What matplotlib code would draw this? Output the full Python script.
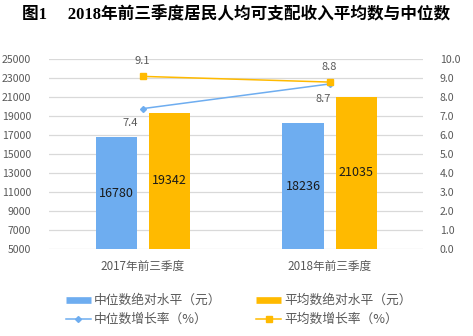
import matplotlib
matplotlib.use("Agg")
import matplotlib.pyplot as plt
from matplotlib.lines import Line2D
import numpy as np

plt.rcParams['font.family'] = ['Noto Sans CJK SC', 'DejaVu Sans']

categories = ["2017年前三季度", "2018年前三季度"]
median_abs = [16780, 18236]
mean_abs = [19342, 21035]
median_growth = [7.4, 8.7]
mean_growth = [9.1, 8.8]
left_ticks = list(range(5000, 25001, 2000))
right_ticks = [i * 1.0 for i in range(0, 11)]

title = "图1\u3000 2018年前三季度居民人均可支配收入平均数与中位数"
leg_labels = ["中位数绝对水平（元）", "平均数绝对水平（元）", "中位数增长率（%）", "平均数增长率（%）"]

blue = "#6EADF0"
gold = "#FFBA00"
txt = "#595959"
grid = "#D9D9D9"

fig = plt.figure(figsize=(4.73, 3.36), dpi=100)
ax = fig.add_axes([0.1042, 0.2589, 0.790, 0.5646])
x = np.arange(len(categories))
bw = 0.22
off = 0.142
ax.bar(x - off, median_abs, bw, color=blue, zorder=2)
ax.bar(x + off, mean_abs, bw, color=gold, zorder=2)
ax.set_ylim(5000, 25000)
ax.set_xlim(-0.5, 1.5)
ax.set_yticks(left_ticks)
ax.set_yticklabels([str(t) for t in left_ticks])
ax.set_xticks(x)
ax.set_xticklabels(categories)
for s in ax.spines.values():
    s.set_visible(False)
ax.tick_params(length=0, colors=txt, labelsize=7.6)
ax.tick_params(axis='y', pad=13)
ax.tick_params(axis='x', labelsize=8.4, pad=8)
ax.yaxis.grid(True, color=grid, lw=0.9, zorder=0)
ax.set_axisbelow(True)

for xi, v in zip(x - off, median_abs):
    ax.text(xi, (5000 + v) / 2, str(v), ha='center', va='center', fontsize=9, color='#1a1a1a', zorder=3)
for xi, v in zip(x + off, mean_abs):
    ax.text(xi, (5000 + v) / 2, str(v), ha='center', va='center', fontsize=9, color='#1a1a1a', zorder=3)

ax2 = ax.twinx()
ax2.set_ylim(0, 10)
ax2.set_yticks(right_ticks)
ax2.set_yticklabels([f"{t:.1f}" for t in right_ticks])
for s in ax2.spines.values():
    s.set_visible(False)
ax2.tick_params(length=0, colors=txt, labelsize=7.6, pad=12)
ax2.plot(x, median_growth, color=blue, lw=1.1, marker='D', ms=3, zorder=4)
ax2.plot(x, mean_growth, color=gold, lw=1.1, marker='s', ms=5, zorder=4)
for xi, v in zip(x, mean_growth):
    ax2.annotate(f"{v:.1f}", (xi, v), xytext=(0, 11), textcoords='offset points',
                 ha='center', va='center', fontsize=8, color=txt)
median_label_offsets = [(-8.8, -10.4), (-4.8, -11)]
for xi, v, o in zip(x, median_growth, median_label_offsets):
    ax2.annotate(f"{v:.1f}", (xi, v), xytext=o, textcoords='offset points',
                 ha='center', va='center', fontsize=8, color=txt)

fig.text(0.5, 0.955, title, ha='center', va='center', fontsize=12, fontweight='bold',
         family=['Liberation Serif', 'Noto Sans CJK SC'], color='black')

h1 = Line2D([], [], color=blue, lw=4.8, solid_capstyle='butt')
h2 = Line2D([], [], color=gold, lw=4.8, solid_capstyle='butt')
h3 = Line2D([], [], color=blue, lw=1.1, marker='D', ms=3)
h4 = Line2D([], [], color=gold, lw=1.1, marker='s', ms=5)
leg = fig.legend([h1, h3, h2, h4], [leg_labels[0], leg_labels[2], leg_labels[1], leg_labels[3]],
                 ncol=2, loc='center', bbox_to_anchor=(0.505, 0.077), frameon=False,
                 fontsize=9.2, handlelength=1.95, handletextpad=0.26, columnspacing=2.7,
                 labelspacing=0.45, borderpad=0)
for t in leg.get_texts():
    t.set_color(txt)

fig.savefig("out.png", dpi=100)
